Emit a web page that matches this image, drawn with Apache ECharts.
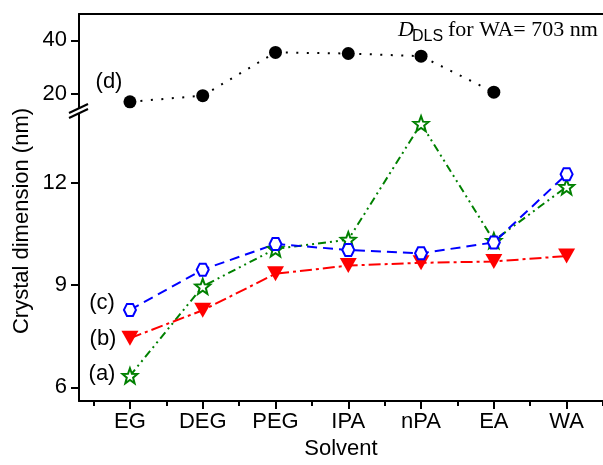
<!DOCTYPE html>
<html>
<head>
<meta charset="utf-8">
<script src="https://cdn.jsdelivr.net/npm/echarts@6/dist/echarts.min.js"></script>
<style>
  html, body { margin: 0; padding: 0; background: #fff; }
  #chart { width: 603px; height: 465px; }
</style>
</head>
<body>
<div id="chart"></div>
<script>
// Solvents on the x axis (positions 1..7)
const categories = ['EG', 'DEG', 'PEG', 'IPA', 'nPA', 'EA', 'WA'];

// Crystal dimension (nm) per solvent
const seriesA = [6.34, 8.96, 10.06, 10.33, 13.73, 10.30, 11.88];   // (a) green stars
const seriesB = [7.44, 8.26, 9.33, 9.57, 9.65, 9.69, 9.85];        // (b) red triangles
const seriesC = [8.27, 9.45, 10.20, 10.03, 9.93, 10.25, 12.25];    // (c) blue hexagons
const seriesD = [17.0, 19.3, 35.5, 35.1, 34.1, 20.6];              // (d) D_DLS, no WA point

// Tick values for the broken y axis
const upperTicks = [20, 40];
const upperMinor = [30];
const lowerTicks = [6, 9, 12];
const lowerMinor = [7.5, 10.5, 13.5];
const xTicks = [1, 2, 3, 4, 5, 6, 7];
const xMinor = [0.5, 1.5, 2.5, 3.5, 4.5, 5.5, 6.5, 7.5];

const SANS = 'Arial, "Liberation Sans", sans-serif';
const SERIF = '"Times New Roman", "Liberation Serif", serif';
const FS = 22;

// five-pointed star symbol
function starPath() {
  const pts = [];
  for (let k = 0; k < 10; k++) {
    const r = k % 2 === 0 ? 1 : 0.42;
    const a = -Math.PI / 2 + k * Math.PI / 5;
    pts.push((r * Math.cos(a)).toFixed(4) + ',' + (r * Math.sin(a)).toFixed(4));
  }
  return 'path://M' + pts.join(' L') + ' Z';
}
const hexPath = 'path://M-1,0 L-0.5,-0.866 L0.5,-0.866 L1,0 L0.5,0.866 L-0.5,0.866 Z';

function toPoints(values, firstLabel) {
  return values.map((v, i) => {
    if (i === 0 && firstLabel) {
      return { value: [i + 1, v], label: Object.assign({ show: true, fontSize: FS, fontFamily: SANS, color: '#000', position: 'left' }, firstLabel) };
    }
    return [i + 1, v];
  });
}

const chart = echarts.init(document.getElementById('chart'), null, { renderer: 'canvas' });

const axisLine = { show: true, lineStyle: { color: '#000', width: 2 } };
const noLine = { show: false };

const option = {
  animation: false,
  backgroundColor: '#fff',
  grid: [
    { left: 79, right: 0, top: 14, height: 95 },
    { left: 79, right: 0, top: 109, bottom: 62 }
  ],
  xAxis: [
    { gridIndex: 0, type: 'value', min: 0.3, max: 7.5, position: 'top',
      axisLine: axisLine, axisTick: { show: false }, axisLabel: { show: false }, splitLine: { show: false } },
    { gridIndex: 1, type: 'value', min: 0.3, max: 7.5, position: 'bottom',
      axisLine: axisLine,
      axisTick: { show: true, length: 8, lineStyle: { color: '#000', width: 2 }, customValues: xTicks },
      axisLabel: { show: true, customValues: xTicks, formatter: v => categories[Math.round(v) - 1] || '',
        fontSize: FS, fontFamily: SANS, color: '#000', margin: 10 },
      splitLine: { show: false },
      name: 'Solvent', nameLocation: 'middle', nameGap: 37,
      nameTextStyle: { fontSize: FS, fontFamily: SANS, color: '#000' } },
    { gridIndex: 1, type: 'value', min: 0.3, max: 7.5, position: 'bottom',
      axisLine: noLine,
      axisTick: { show: true, length: 5, lineStyle: { color: '#000', width: 2 }, customValues: xMinor },
      axisLabel: { show: false }, splitLine: { show: false } }
  ],
  yAxis: [
    { gridIndex: 0, type: 'value', min: 14.3, max: 49.9,
      axisLine: axisLine,
      axisTick: { show: true, length: 8, lineStyle: { color: '#000', width: 2 }, customValues: upperTicks },
      axisLabel: { show: true, customValues: upperTicks, fontSize: FS, fontFamily: SANS, color: '#000', margin: 12 },
      splitLine: { show: false } },
    { gridIndex: 0, type: 'value', min: 14.3, max: 49.9,
      axisLine: noLine,
      axisTick: { show: true, length: 5, lineStyle: { color: '#000', width: 2 }, customValues: upperMinor },
      axisLabel: { show: false }, splitLine: { show: false } },
    { gridIndex: 1, type: 'value', min: 5.6, max: 14.16,
      axisLine: axisLine,
      axisTick: { show: true, length: 8, lineStyle: { color: '#000', width: 2 }, customValues: lowerTicks },
      axisLabel: { show: true, customValues: lowerTicks, fontSize: FS, fontFamily: SANS, color: '#000', margin: 12 },
      splitLine: { show: false } },
    { gridIndex: 1, type: 'value', min: 5.6, max: 14.16,
      axisLine: noLine,
      axisTick: { show: true, length: 5, lineStyle: { color: '#000', width: 2 }, customValues: lowerMinor },
      axisLabel: { show: false }, splitLine: { show: false } }
  ],
  series: [
    { name: '(d)', type: 'line', xAxisIndex: 0, yAxisIndex: 0,
      data: toPoints(seriesD, { formatter: '(d)', distance: 1, offset: [0, -20] }),
      symbol: 'circle', symbolSize: 13,
      itemStyle: { color: '#000' },
      lineStyle: { color: '#000', width: 2, type: [2, 8.5] } },
    { name: '(a)', type: 'line', xAxisIndex: 1, yAxisIndex: 2,
      data: toPoints(seriesA, { formatter: '(a)', distance: 6, offset: [0, -2] }),
      symbol: starPath(), symbolSize: 15,
      itemStyle: { color: '#fff', borderColor: '#008000', borderWidth: 2 },
      lineStyle: { color: '#008000', width: 2, type: [8, 4, 2, 4, 2, 4] } },
    { name: '(b)', type: 'line', xAxisIndex: 1, yAxisIndex: 2,
      data: toPoints(seriesB, { formatter: '(b)', distance: 5, offset: [0, 1] }),
      symbol: 'triangle', symbolRotate: 180, symbolSize: [17, 15],
      itemStyle: { color: '#ff0000' },
      lineStyle: { color: '#ff0000', width: 2, type: [12, 4, 3, 4] } },
    { name: '(c)', type: 'line', xAxisIndex: 1, yAxisIndex: 2,
      data: toPoints(seriesC, { formatter: '(c)', distance: 8, offset: [0, -7] }),
      symbol: hexPath, symbolSize: 12,
      itemStyle: { color: '#fff', borderColor: '#0000ff', borderWidth: 2 },
      lineStyle: { color: '#0000ff', width: 2, type: [10, 6] } }
  ],
  graphic: [
    // y axis title spanning both panels
    { type: 'text', x: 22, y: 221, rotation: Math.PI / 2,
      style: { text: 'Crystal dimension (nm)', fontSize: FS, fontFamily: SANS, fill: '#000',
        align: 'center', verticalAlign: 'middle' } },
    // axis break marks
    { type: 'polygon', z: 100, shape: { points: [[69, 113], [88, 104], [88, 109], [69, 118]] },
      style: { fill: '#fff' } },
    { type: 'line', z: 101, shape: { x1: 69, y1: 113, x2: 88, y2: 104 }, style: { stroke: '#000', lineWidth: 2 } },
    { type: 'line', z: 101, shape: { x1: 69, y1: 118, x2: 88, y2: 109 }, style: { stroke: '#000', lineWidth: 2 } },
    // D_DLS annotation
    { type: 'text', x: 398, y: 30, z: 50,
      style: { text: 'D', fontSize: 22, fontStyle: 'italic', fontFamily: SERIF, fill: '#000', align: 'left', verticalAlign: 'middle' } },
    { type: 'text', x: 412, y: 37, z: 50,
      style: { text: 'DLS', fontSize: 16, fontFamily: SANS, fill: '#000', align: 'left', verticalAlign: 'middle' } },
    { type: 'text', x: 448, y: 30, z: 50,
      style: { text: 'for WA= 703 nm', fontSize: 22, fontFamily: SERIF, fill: '#000', align: 'left', verticalAlign: 'middle' } }
  ]
};

chart.setOption(option);
</script>
</body>
</html>
